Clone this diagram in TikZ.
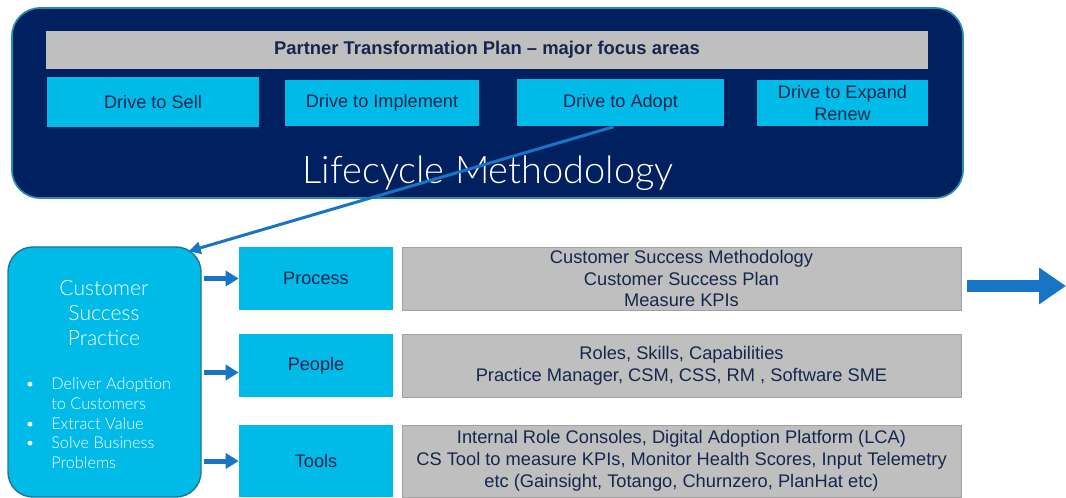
\documentclass[tikz,border=0pt]{standalone}
\usepackage{fontspec}
\setmainfont{Liberation Sans}
\newfontfamily\thinfont{Lato Light}
\usetikzlibrary{arrows.meta,calc}

\definecolor{navy}{RGB}{0,32,96}
\definecolor{sky}{RGB}{0,186,232}
\definecolor{plangray}{RGB}{191,191,191}
\definecolor{inktext}{RGB}{22,38,78}
\definecolor{linkblue}{RGB}{24,116,196}
\definecolor{rimteal}{RGB}{40,140,170}
\definecolor{cspteal}{RGB}{30,118,150}

\newlength\px
\setlength\px{0.025cm}

\tikzset{
  focusbox/.style={fill=sky, text=inktext, align=center, inner sep=0pt,
    font=\fontsize{12.9}{15.6}\selectfont},
  detailbox/.style={fill=plangray, draw=plangray!85!black, line width=0.6pt, text=inktext,
    align=center, inner sep=0pt, font=\fontsize{13}{15.6}\selectfont},
  flow/.style={draw=linkblue, line width=5\px, -{Triangle[length=0.325cm,width=0.375cm]}},
  link/.style={draw=linkblue, line width=3\px, -{Triangle[length=0.3cm,width=0.3cm]}},
  bigflow/.style={draw=linkblue, line width=12\px, -{Triangle[length=0.675cm,width=0.875cm]}},
}

\begin{document}
\begin{tikzpicture}[x=0.025cm, y=-0.025cm]
	\useasboundingbox (0, 0) rectangle (1066, 498);
	% lifecycle frame
	\node[fill=navy, draw=rimteal, line width=1.2pt, rounded corners=28\px, minimum width=951\px, minimum height=190\px] (frame) at (487.5, 103) {};
	\node[fill=plangray, text=inktext, inner sep=0pt, minimum width=882\px, minimum height=38\px, font=\bfseries\fontsize{13.1}{15}\selectfont] (plan) at (487, 50) {Partner Transformation Plan -- major focus areas};
	\node[focusbox, minimum width=212\px, minimum height=50\px] (sell) at (153, 102) {Drive to Sell};
	\node[focusbox, minimum width=194\px, minimum height=46\px] (implement) at (382, 103) {Drive to Implement};
	\node[focusbox, minimum width=207\px, minimum height=47\px] (adopt) at (620.5, 103) {Drive to Adopt};
	\node[focusbox, minimum width=171\px, minimum height=46\px] (expand) at (842.5, 103) {Drive to Expand\\Renew};
	\node[text=white, inner sep=0pt, font=\thinfont\fontsize{27}{30}\selectfont] (lifecycle) at (488, 173) {Lifecycle Methodology};

	% customer success practice
	\node[fill=sky, draw=cspteal, line width=1pt, rounded corners=25\px, minimum width=193\px, minimum height=250\px] (csp) at (104.5, 372) {};
	\node[text=white, align=center, inner sep=0pt, font=\thinfont\fontsize{15}{17.8}\selectfont] (csptitle) at (104, 313) {Customer\\Success\\Practice};
	\node[text=white, anchor=north west, inner sep=0pt, font=\thinfont\fontsize{11.6}{13.9}\selectfont] (cspgoals) at (25, 376) {%
		\renewcommand{\arraystretch}{1.0}%
		\begin{tabular}{@{}p{26\px}@{}l@{}}
		\textbullet & Deliver Adoption\\
		 & to Customers\\
		\textbullet & Extract Value\\
		\textbullet & Solve Business\\
		 & Problems
		\end{tabular}};

	% pillars
	\node[focusbox, minimum width=154\px, minimum height=63\px] (process) at (316, 278.5) {Process};
	\node[focusbox, minimum width=154\px, minimum height=63\px] (people) at (316, 365.5) {People};
	\node[focusbox, minimum width=154\px, minimum height=72\px] (tools) at (316, 461) {Tools};
	\node[detailbox, minimum width=559\px, minimum height=63\px] (processinfo) at (681.5, 278.5) {Customer Success Methodology\\Customer Success Plan\\Measure KPIs};
	\node[detailbox, minimum width=559\px, minimum height=63\px] (peopleinfo) at (681.5, 365.5) {Roles, Skills, Capabilities\\Practice Manager, CSM, CSS, RM , Software SME};
	\node[detailbox, minimum width=559\px, minimum height=72\px] (toolsinfo) at (681.5, 461) {Internal Role Consoles, Digital Adoption Platform (LCA)\\CS Tool to measure KPIs, Monitor Health Scores, Input Telemetry\\etc (Gainsight, Totango, Churnzero, PlanHat etc)};

	\coordinate (out0) at (967, 286);
	\coordinate (out1) at (1066, 286);

	\draw[flow] ($(csp.east |- process.west)+(2, 0)$) -- (process.west);
	\draw[flow] ($(csp.east |- people.west)+(2, 7)$) -- ($(people.west)+(0, 7)$);
	\draw[flow] ($(csp.east |- tools.west)+(2, 0)$) -- (tools.west);
	\draw[link] ($(adopt.south)+(-7, 0)$) -- ($(csp.north east)+(-13, 5)$);
	\draw[bigflow] (out0) -- (out1);
\end{tikzpicture}
\end{document}
